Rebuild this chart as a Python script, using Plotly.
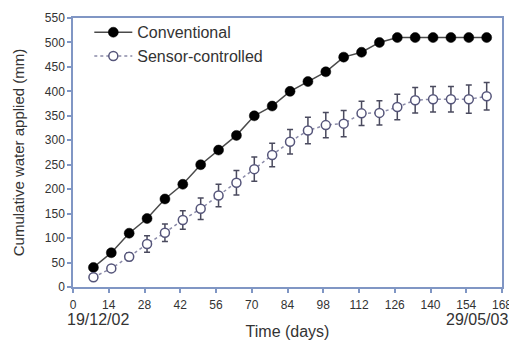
import plotly.graph_objects as go

days = [8, 15, 22, 29, 36, 43, 50, 57, 64, 71, 78, 85, 92, 99, 106, 113, 120, 127, 134, 141, 148, 155, 162]
conventional = [40, 70, 110, 140, 180, 210, 250, 280, 310, 350, 370, 400, 420, 440, 470, 480, 500, 510, 510, 510, 510, 510, 510]
sensor = [20, 38, 62, 88, 111, 137, 160, 187, 213, 241, 270, 297, 320, 331, 334, 355, 356, 368, 382, 384, 384, 384, 390]
sensor_err = [3, 5, 8, 17, 18, 19, 22, 23, 25, 25, 24, 25, 27, 26, 27, 25, 25, 26, 26, 26, 26, 29, 28]
x_ticks = [0, 14, 28, 42, 56, 70, 84, 98, 112, 126, 140, 154, 168]
y_ticks = [0, 50, 100, 150, 200, 250, 300, 350, 400, 450, 500, 550]
start_date = "19/12/02"
end_date = "29/05/03"

axis_col = "#8096c4"
font = "Liberation Sans, Arial, sans-serif"
txt = "#333333"

fig = go.Figure()
fig.add_trace(go.Scatter(
    x=days, y=conventional, name="Conventional", mode="lines+markers",
    line=dict(color="#4a4a4a", width=1.5),
    marker=dict(color="black", size=10, line=dict(color="black", width=0.5)),
))
fig.add_trace(go.Scatter(
    x=days, y=sensor, name="Sensor-controlled", mode="lines+markers",
    line=dict(color="#8a8aa8", width=1.5, dash="dot"),
    marker=dict(color="white", size=9, line=dict(color="#55557a", width=1.5)),
    error_y=dict(type="data", array=sensor_err, visible=True, color="#4a4a5e", thickness=1.5, width=3),
))

# page body has an 8px margin, so the figure is 8px smaller and margins shifted
fig.update_layout(
    width=509, height=332,
    margin=dict(l=65, r=15, t=7, b=53),
    paper_bgcolor="white", plot_bgcolor="white",
    font=dict(family=font, color=txt, size=12),
    showlegend=True,
    legend=dict(x=0.038, y=1.01, xanchor="left", yanchor="top",
                font=dict(size=16, color=txt, family=font),
                bgcolor="rgba(0,0,0,0)", tracegroupgap=0, itemwidth=38),
    xaxis=dict(range=[0, 168], tickvals=x_ticks, showgrid=False, zeroline=False,
               showline=True, linecolor=axis_col, linewidth=1.5, mirror=True,
               ticks="outside", ticklen=4, tickcolor=axis_col, tickwidth=1.5,
               ticklabelstandoff=2, automargin=False,
               tickfont=dict(size=12, color=txt),
               title=dict(text="Time (days)", font=dict(size=16, color=txt), standoff=26)),
    yaxis=dict(range=[0, 550], tickvals=y_ticks, showgrid=False, zeroline=False,
               showline=True, linecolor=axis_col, linewidth=1.5, mirror=True,
               ticks="outside", ticklen=4, tickcolor=axis_col, tickwidth=1.5,
               automargin=False,
               tickfont=dict(size=12, color=txt),
               title=dict(text="Cumulative water applied (mm)", font=dict(size=15, color=txt), standoff=17)),
    annotations=[
        dict(text=start_date, xref="paper", yref="paper", x=0.059, y=-0.121,
             xanchor="center", yanchor="middle", showarrow=False,
             font=dict(size=16, color=txt, family=font)),
        dict(text=end_date, xref="paper", yref="paper", x=1.019, y=-0.121,
             xanchor="right", yanchor="middle", showarrow=False,
             font=dict(size=16, color=txt, family=font)),
    ],
)

fig.write_html("out.html")
